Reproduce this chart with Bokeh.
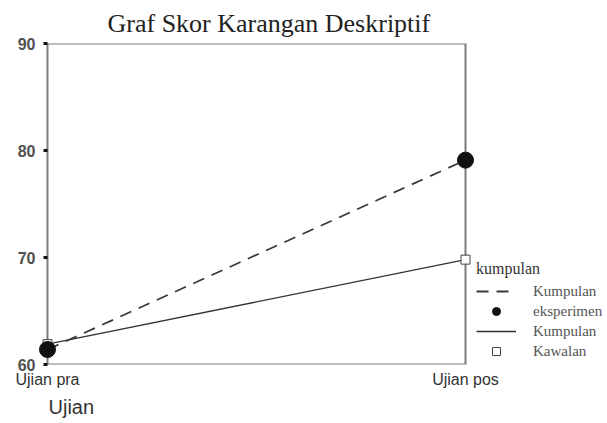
from bokeh.plotting import figure
from bokeh.models import (Range1d, FixedTicker, BoxAnnotation, Legend, LegendItem, Title)
from bokeh.embed import file_html
from bokeh.resources import INLINE

# ---- data ----
categories = ["Ujian pra", "Ujian pos"]
x_pos = [0, 1]
eksperimen = [61.4, 79.1]
kawalan = [61.9, 69.8]
y_ticks = [60, 70, 80, 90]

# frame spans 568 px: 10 px margin left of "Ujian pra", 418 px between the two tests
px_per_unit = 418.0
x_lo = -10 / px_per_unit
x_hi = (568 - 10) / px_per_unit

p = figure(width=605, height=420, output_backend="svg", toolbar_location=None,
           x_range=Range1d(x_lo, x_hi), y_range=Range1d(60, 90),
           min_border_left=37, min_border_right=0, min_border_top=43,
           min_border_bottom=54)
p.title.text = "Graf Skor Karangan Deskriptif"
p.title.text_font = "Liberation Serif"
p.title.text_font_size = "26px"
p.title.text_font_style = "normal"
p.title.text_color = "#222222"
p.title.align = "left"
p.title.offset = 70
p.title.standoff = 12

p.outline_line_color = None
p.xgrid.grid_line_color = None
p.ygrid.grid_line_color = None
p.background_fill_color = "white"
p.border_fill_color = "white"

# axes
p.xaxis.ticker = FixedTicker(ticks=x_pos)
p.xaxis.major_label_overrides = {0: categories[0], 1: categories[1]}
p.xaxis.axis_line_color = None
p.xaxis.major_tick_line_color = None
p.xaxis.major_tick_out = 0
p.xaxis.major_tick_in = 0
p.xaxis.minor_tick_line_color = None
p.xaxis.major_label_standoff = 6
p.xaxis.major_label_text_font = "Liberation Sans"
p.xaxis.major_label_text_font_size = "16px"
p.xaxis.major_label_text_color = "#333333"

p.yaxis.ticker = FixedTicker(ticks=y_ticks)
p.yaxis.axis_line_color = None
p.yaxis.major_tick_line_color = "#111111"
p.yaxis.major_tick_line_width = 3
p.yaxis.major_tick_out = -6
p.yaxis.major_tick_in = 10
p.yaxis.minor_tick_line_color = None
p.yaxis.major_label_standoff = 2
p.yaxis.major_label_text_font = "Liberation Sans"
p.yaxis.major_label_text_font_size = "16px"
p.yaxis.major_label_text_font_style = "bold"
p.yaxis.major_label_text_color = "#505050"

# frame box around the two tests
box = BoxAnnotation(left=0, right=1, bottom=60, top=90, fill_alpha=0,
                    line_color="#7a7a7a", line_alpha=1, line_width=2, level="underlay")
p.add_layout(box)

# series (control first so the experimental circles sit on top)
l_kaw = p.line(x_pos, kawalan, line_color="#333333", line_width=1.3)
m_kaw = p.scatter(x_pos, kawalan, marker="square", size=9,
                  fill_color="white", line_color="#444444", line_width=1)
l_eks = p.line(x_pos, eksperimen, line_color="#3a3a3a", line_width=1.8, line_dash="12 8")
m_eks = p.scatter(x_pos, eksperimen, marker="circle", size=16,
                  fill_color="#111111", line_color="#111111")

legend = Legend(items=[
    LegendItem(label="Kumpulan", renderers=[l_eks]),
    LegendItem(label="eksperimen", renderers=[m_eks]),
    LegendItem(label="Kumpulan", renderers=[l_kaw]),
    LegendItem(label="Kawalan", renderers=[m_kaw]),
], location=(439, 3))
legend.title = "kumpulan"
legend.title_text_font = "Liberation Serif"
legend.title_text_font_size = "16px"
legend.title_text_font_style = "normal"
legend.title_text_color = "#333333"
legend.title_standoff = 3
legend.label_text_font = "Liberation Serif"
legend.label_text_font_size = "15px"
legend.label_text_color = "#555555"
legend.glyph_width = 40
legend.glyph_height = 20
legend.label_standoff = 17
legend.label_height = 20
legend.spacing = 0
legend.padding = 0
legend.margin = 0
legend.border_line_color = None
legend.background_fill_alpha = 0
p.add_layout(legend)

# x-axis title
ujian = Title(text="Ujian", align="left", offset=11, standoff=6,
              text_font="Liberation Sans", text_font_size="20px",
              text_font_style="normal", text_color="#333333")
p.add_layout(ujian, "below")

open("out.html", "w").write(file_html(p, INLINE))
